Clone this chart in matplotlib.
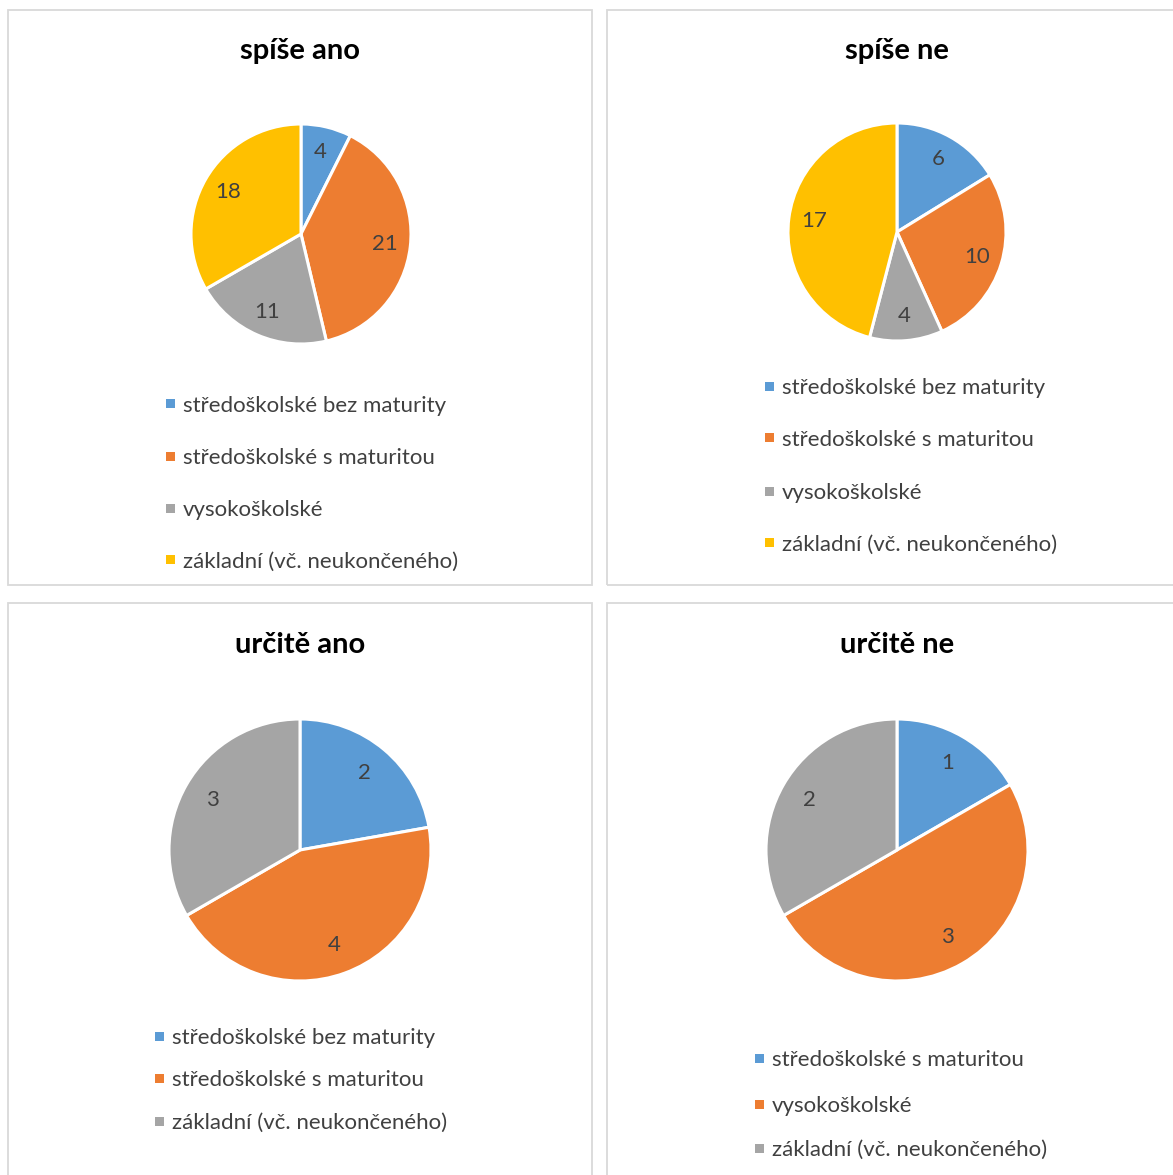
import matplotlib
matplotlib.use("Agg")
import matplotlib.pyplot as plt
from matplotlib.patches import Rectangle

W, H = 1173, 1175
FONT = "Lato"

# ---- data ----
titles = ["spíše ano", "spíše ne", "určitě ano", "určitě ne"]

cats_1 = ["středoškolské bez maturity", "středoškolské s maturitou", "vysokoškolské", "základní (vč. neukončeného)"]
vals_1 = [4, 21, 11, 18]

cats_2 = ["středoškolské bez maturity", "středoškolské s maturitou", "vysokoškolské", "základní (vč. neukončeného)"]
vals_2 = [6, 10, 4, 17]

cats_3 = ["středoškolské bez maturity", "středoškolské s maturitou", "základní (vč. neukončeného)"]
vals_3 = [2, 4, 3]

cats_4 = ["středoškolské s maturitou", "vysokoškolské", "základní (vč. neukončeného)"]
vals_4 = [1, 3, 2]

colors = ["#5B9BD5", "#ED7D31", "#A5A5A5", "#FFC000"]

# ---- layout (pixels) ----
panels = [
    dict(box=(8, 10, 592, 585), center=(301, 234), r=110, title_xy=(300, 51),
         leg_x=166, leg_y=[404, 456, 508, 560], cats=cats_1, vals=vals_1),
    dict(box=(607, 10, 1180, 585), center=(897, 232), r=109, title_xy=(897, 51),
         leg_x=765, leg_y=[386, 438, 491, 543], cats=cats_2, vals=vals_2),
    dict(box=(8, 603, 592, 1180), center=(300, 850), r=131, title_xy=(300, 645),
         leg_x=155, leg_y=[1036, 1078, 1121], cats=cats_3, vals=vals_3),
    dict(box=(607, 603, 1180, 1180), center=(897, 850), r=131, title_xy=(897, 645),
         leg_x=755, leg_y=[1058, 1104, 1148], cats=cats_4, vals=vals_4),
]

fig = plt.figure(figsize=(W / 100, H / 100), dpi=100)
fig.patch.set_facecolor("white")


def fx(x):
    return x / W


def fy(y):
    return 1 - y / H


for i, p in enumerate(panels):
    x0, y0, x1, y1 = p["box"]
    fig.patches.append(Rectangle((fx(x0), fy(y1)), fx(x1) - fx(x0), fy(y0) - fy(y1),
                                 transform=fig.transFigure, facecolor="none",
                                 edgecolor="#D9D9D9", linewidth=1.3, zorder=0))
    cx, cy = p["center"]
    r = p["r"]
    ax = fig.add_axes([fx(cx - r), fy(cy + r), 2 * r / W, 2 * r / H])
    vals = p["vals"]
    total = sum(vals)
    wedges, _, autotexts = ax.pie(
        vals, colors=colors[:len(vals)], startangle=90, counterclock=False,
        autopct=lambda pct, t=total: f"{round(pct * t / 100):d}", pctdistance=0.77,
        wedgeprops=dict(edgecolor="white", linewidth=2.2),
        textprops=dict(fontsize=16, color="#404040", family=FONT))
    ax.set_xlim(-1, 1)
    ax.set_ylim(-1, 1)
    ax.set_aspect("equal")
    ax.axis("off")

    tx, ty = p["title_xy"]
    fig.text(fx(tx), fy(ty), titles[i], ha="center", va="center",
             fontsize=21, fontweight="bold", color="black", family=FONT)

    lx = p["leg_x"]
    for j, (cat, ly) in enumerate(zip(p["cats"], p["leg_y"])):
        s = 9
        fig.patches.append(Rectangle((fx(lx), fy(ly + s / 2)), s / W, s / H,
                                     transform=fig.transFigure, facecolor=colors[j],
                                     edgecolor="none"))
        fig.text(fx(lx + 17), fy(ly), cat, ha="left", va="center_baseline",
                 fontsize=16, color="#404040", family=FONT)

fig.savefig("out.png", dpi=100, facecolor="white")
